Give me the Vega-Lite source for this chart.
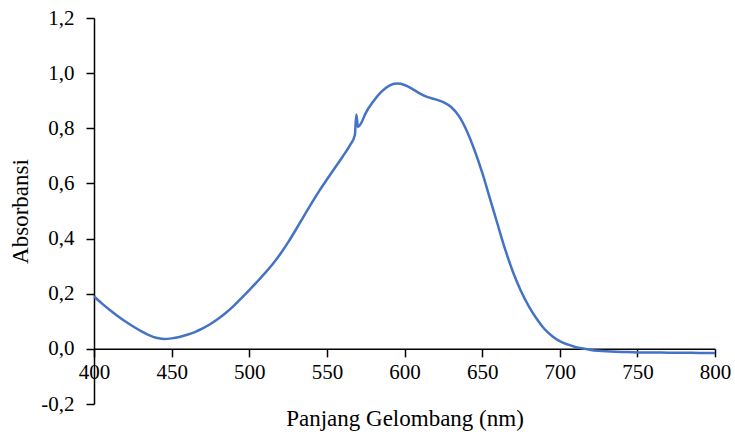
{
  "$schema": "https://vega.github.io/schema/vega-lite/v6.json",
  "width": 621,
  "height": 386,
  "autosize": "none",
  "padding": {"left": 94, "top": 18, "right": 20, "bottom": 30},
  "background": "white",
  "config": {
    "view": {"stroke": null},
    "font": "Liberation Serif",
    "axis": {
      "grid": false,
      "domainColor": "black",
      "domainWidth": 1.5,
      "tickColor": "black",
      "tickWidth": 1.5,
      "tickSize": 8,
      "labelColor": "black",
      "titleColor": "black",
      "labelFont": "Liberation Serif",
      "titleFont": "Liberation Serif",
      "labelFontSize": 21,
      "titleFontSize": 23,
      "titleFontWeight": "normal"
    }
  },
  "data": {
    "values": [
      {"nm": 400, "abs": 0.190}, {"nm": 405, "abs": 0.165}, {"nm": 410, "abs": 0.142},
      {"nm": 415, "abs": 0.120}, {"nm": 420, "abs": 0.100}, {"nm": 425, "abs": 0.082},
      {"nm": 430, "abs": 0.065}, {"nm": 435, "abs": 0.051}, {"nm": 440, "abs": 0.040},
      {"nm": 445, "abs": 0.036}, {"nm": 450, "abs": 0.038}, {"nm": 455, "abs": 0.043},
      {"nm": 460, "abs": 0.051}, {"nm": 465, "abs": 0.061}, {"nm": 470, "abs": 0.074},
      {"nm": 475, "abs": 0.090}, {"nm": 480, "abs": 0.109}, {"nm": 485, "abs": 0.131},
      {"nm": 490, "abs": 0.156}, {"nm": 495, "abs": 0.184}, {"nm": 500, "abs": 0.213},
      {"nm": 505, "abs": 0.243}, {"nm": 510, "abs": 0.274}, {"nm": 515, "abs": 0.307},
      {"nm": 520, "abs": 0.344}, {"nm": 525, "abs": 0.386}, {"nm": 530, "abs": 0.432},
      {"nm": 535, "abs": 0.480}, {"nm": 540, "abs": 0.527}, {"nm": 545, "abs": 0.572},
      {"nm": 550, "abs": 0.614}, {"nm": 555, "abs": 0.655}, {"nm": 560, "abs": 0.696},
      {"nm": 565, "abs": 0.740}, {"nm": 568, "abs": 0.775}, {"nm": 569, "abs": 0.850},
      {"nm": 570, "abs": 0.805}, {"nm": 572, "abs": 0.818}, {"nm": 575, "abs": 0.855},
      {"nm": 580, "abs": 0.898}, {"nm": 585, "abs": 0.932}, {"nm": 590, "abs": 0.954},
      {"nm": 595, "abs": 0.962}, {"nm": 600, "abs": 0.957}, {"nm": 605, "abs": 0.943},
      {"nm": 610, "abs": 0.926}, {"nm": 615, "abs": 0.913}, {"nm": 620, "abs": 0.905},
      {"nm": 625, "abs": 0.895}, {"nm": 630, "abs": 0.877}, {"nm": 635, "abs": 0.845},
      {"nm": 640, "abs": 0.792}, {"nm": 645, "abs": 0.722}, {"nm": 650, "abs": 0.640},
      {"nm": 655, "abs": 0.546}, {"nm": 660, "abs": 0.451}, {"nm": 665, "abs": 0.358},
      {"nm": 670, "abs": 0.277}, {"nm": 675, "abs": 0.210}, {"nm": 680, "abs": 0.155},
      {"nm": 685, "abs": 0.110}, {"nm": 690, "abs": 0.073}, {"nm": 695, "abs": 0.047},
      {"nm": 700, "abs": 0.028}, {"nm": 705, "abs": 0.016}, {"nm": 710, "abs": 0.007},
      {"nm": 715, "abs": 0.001}, {"nm": 720, "abs": -0.004}, {"nm": 725, "abs": -0.007},
      {"nm": 730, "abs": -0.009}, {"nm": 740, "abs": -0.011}, {"nm": 750, "abs": -0.013},
      {"nm": 760, "abs": -0.013}, {"nm": 770, "abs": -0.014}, {"nm": 780, "abs": -0.014},
      {"nm": 790, "abs": -0.015}, {"nm": 800, "abs": -0.015}
    ]
  },
  "mark": {"type": "line", "color": "#4472C4", "strokeWidth": 2.5, "interpolate": "monotone", "clip": false},
  "encoding": {
    "x": {
      "field": "nm",
      "type": "quantitative",
      "scale": {"domain": [400, 800], "nice": false, "zero": false},
      "axis": {
        "title": "Panjang Gelombang (nm)",
        "values": [400, 450, 500, 550, 600, 650, 700, 750, 800],
        "offset": -55.14,
        "labelPadding": 5,
        "titlePadding": 25,
        "labelFlush": false
      }
    },
    "y": {
      "field": "abs",
      "type": "quantitative",
      "scale": {"domain": [-0.2, 1.2], "nice": false, "zero": false},
      "axis": {
        "title": "Absorbansi",
        "values": [-0.2, 0, 0.2, 0.4, 0.6, 0.8, 1.0, 1.2],
        "labelExpr": "replace(replace(format(datum.value, '.1f'), '.', ','), '−', '-')",
        "labelPadding": 12,
        "titlePadding": 8,
        "labelFlush": false
      }
    }
  }
}
